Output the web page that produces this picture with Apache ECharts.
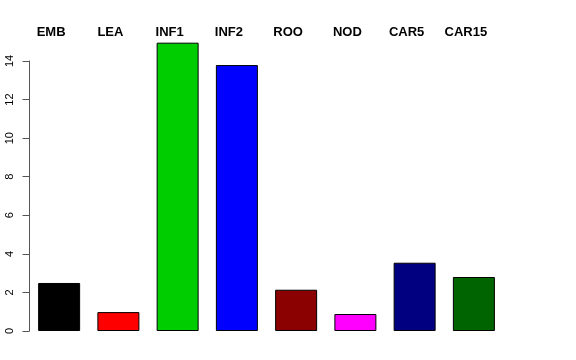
<!DOCTYPE html>
<html>
<head>
<meta charset="utf-8">
<script src="https://cdn.jsdelivr.net/npm/echarts@6/dist/echarts.min.js"></script>
<style>html,body{margin:0;padding:0;background:#fff;}#c{width:576px;height:360px;}</style>
</head>
<body>
<div id="c"></div>
<script>
var categories = ['EMB', 'LEA', 'INF1', 'INF2', 'ROO', 'NOD', 'CAR5', 'CAR15'];
var values = [2.49, 0.98, 14.95, 13.79, 2.14, 0.88, 3.54, 2.80];
var barColors = ['#000000', '#FF0000', '#00CD00', '#0000FF', '#8B0000', '#FF00FF', '#000080', '#006400'];
var yTicks = [0, 2, 4, 6, 8, 10, 12, 14];

var chart = echarts.init(document.getElementById('c'), null, {renderer: 'canvas'});
chart.setOption({
  animation: false,
  backgroundColor: '#ffffff',
  grid: {left: 29.5, right: 72.5, top: 61, bottom: 29, containLabel: false},
  xAxis: {
    type: 'category',
    position: 'top',
    data: categories,
    axisLine: {show: false},
    axisTick: {show: false},
    axisLabel: {
      interval: 0,
      margin: 22,
      padding: [0, 16, 0, 0],
      fontFamily: 'Liberation Sans, Arial, sans-serif',
      fontWeight: 'bold',
      fontSize: 13,
      color: '#000'
    }
  },
  yAxis: {
    type: 'value',
    min: yTicks[0],
    max: yTicks[yTicks.length - 1],
    interval: 2,
    splitLine: {show: false},
    axisLine: {show: true, lineStyle: {color: '#555', width: 1}},
    axisTick: {show: true, length: 7, lineStyle: {color: '#555', width: 1}},
    axisLabel: {
      rotate: 90,
      margin: 14,
      fontFamily: 'Liberation Sans, Arial, sans-serif',
      fontSize: 11,
      color: '#000'
    }
  },
  series: [{
    type: 'bar',
    clip: false,
    barWidth: 42,
    data: values.map(function (v, i) {
      return {value: v, itemStyle: {color: barColors[i], borderColor: '#000', borderWidth: 1}};
    })
  }]
});
</script>
</body>
</html>
